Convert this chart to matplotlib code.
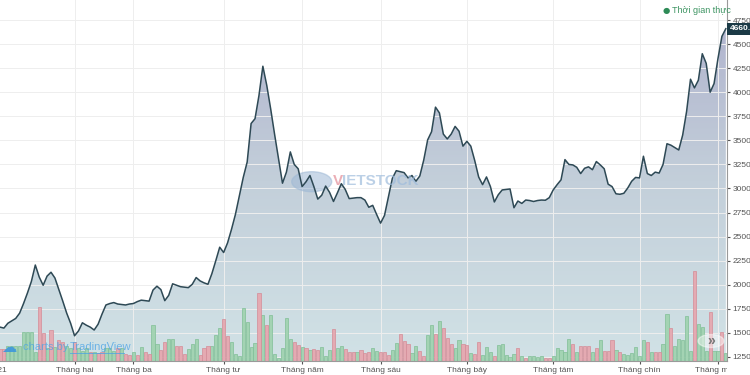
import numpy as np
import matplotlib.pyplot as plt
from matplotlib.colors import LinearSegmentedColormap
from matplotlib.patches import Circle
from matplotlib.lines import Line2D
from matplotlib.transforms import Bbox, TransformedBbox

plt.rcParams["font.family"] = ["Liberation Sans", "DejaVu Sans"]

# trading sessions counted from the first session of 2021
sessions = np.arange(1, 187)

close = [
    1560, 1550, 1600, 1625, 1650, 1705, 1805, 1915, 2035, 2205,
    2080, 1995, 2090, 2130, 2070, 1950, 1830, 1705, 1600, 1470,
    1520, 1605, 1580, 1560, 1530, 1590, 1695, 1790, 1805, 1815,
    1800, 1795, 1790, 1800, 1805, 1825, 1840, 1835, 1830, 1945,
    1985, 1950, 1835, 1890, 2010, 1995, 1980, 1975, 1970, 2005,
    2075, 2040, 2020, 2005, 2115, 2250, 2390, 2335, 2435, 2575,
    2730, 2920, 3115, 3275, 3675, 3725, 3965, 4270, 4070, 3825,
    3560, 3305, 3055, 3170, 3380, 3250, 3205, 3020, 3070, 3135,
    3020, 2890, 2930, 3025, 2960, 2865, 2955, 3050, 2990, 2895,
    2900, 2905, 2905, 2880, 2805, 2825, 2730, 2640, 2720, 2915,
    3105, 3185, 3175, 3165, 3110, 3135, 3075, 3130, 3295, 3505,
    3590, 3845, 3785, 3565, 3515, 3565, 3645, 3595, 3440, 3490,
    3440, 3290, 3120, 3040, 3120, 3020, 2860, 2935, 2985, 2990,
    2995, 2800, 2870, 2845, 2880, 2875, 2865, 2875, 2880, 2878,
    2905, 2985, 3040, 3090, 3300, 3250, 3245, 3220, 3155, 3210,
    3225, 3195, 3280, 3245, 3205, 3045, 3020, 2945, 2940, 2950,
    3005, 3075, 3115, 3110, 3335, 3155, 3135, 3170, 3160, 3250,
    3465, 3450, 3425, 3400, 3555, 3800, 4135, 4045, 4125, 4400,
    4300, 4000, 4090, 4350, 4580, 4660,
]

volume = [
    120, 120, 150, 150, 150, 150, 290, 290, 290, 90,
    540, 280, 130, 310, 140, 210, 190, 150, 130, 190,
    130, 100, 130, 90, 90, 80, 90, 130, 130, 100,
    130, 130, 70, 60, 90, 60, 140, 90, 70, 360,
    170, 110, 190, 220, 220, 150, 150, 70, 120, 170,
    220, 60, 130, 150, 150, 260, 330, 420, 250, 190,
    70, 50, 530, 390, 140, 180, 680, 460, 360, 460,
    70, 30, 130, 430, 220, 190, 160, 140, 130, 110,
    120, 110, 140, 50, 110, 320, 130, 150, 120, 90,
    90, 90, 110, 80, 90, 130, 100, 90, 90, 60,
    110, 180, 270, 200, 170, 80, 150, 100, 50, 260,
    360, 270, 400, 330, 230, 170, 130, 210, 170, 160,
    80, 70, 190, 60, 140, 90, 50, 160, 170, 60,
    40, 70, 130, 50, 30, 50, 50, 40, 50, 30,
    30, 50, 130, 110, 90, 220, 170, 90, 150, 150,
    150, 90, 130, 210, 100, 100, 210, 110, 90, 70,
    60, 80, 140, 50, 210, 190, 90, 90, 90, 170,
    470, 330, 150, 220, 210, 450, 100, 900, 370, 340,
    100, 490, 100, 100, 290, 80,
]

# u = up session (green bar), d = down session (red bar)
vol_dir = "".join("""
dduuuuuuuu ddududduud uuududduuu duddududdu udduuddduu uddduuuddu
uuuuuududu uuuuuddudu dduuuduudd duddduuddd uuddduuddu ududdduudd
udduuuduuu uududuuuud duuuuududd dududddudu uuuuududdu uduuuuuduu
uduudu
""".split())

month_ticks = [20, 35, 58, 78, 98, 120, 142, 164, 184]
month_labels = ["Tháng hai", "Tháng ba", "Tháng tư", "Tháng năm", "Tháng sáu",
                "Tháng bảy", "Tháng tám", "Tháng chín", "Tháng mười"]
price_ticks = [1250, 1500, 1750, 2000, 2250, 2500, 2750, 3000, 3250,
               3500, 3750, 4000, 4250, 4500, 4750]
last_price = 4660

x_lim = (1.0, 186.3)
p_lim = (1208, 4958)
v_lim = (0, 3610)

fig = plt.figure(figsize=(7.5, 3.75), dpi=100)
rect = [0, 14 / 375, 727 / 750, 361 / 375]

# background layer: grid + gradient area
ax_bg = fig.add_axes(rect)
ax_bg.set_xlim(*x_lim)
ax_bg.set_ylim(*p_lim)
ax_bg.set_xticks(month_ticks)
ax_bg.set_yticks(price_ticks)
ax_bg.grid(True, color="#eeeeee", lw=0.7)
ax_bg.tick_params(length=0, labelleft=False, labelbottom=False)
for s in ax_bg.spines.values():
    s.set_visible(False)

cmap = LinearSegmentedColormap.from_list("area", ["#d1e2e6", "#c3cfda", "#aeb0cc"])
grad = np.linspace(0, 1, 256).reshape(-1, 1)
img = ax_bg.imshow(grad, cmap=cmap, origin="lower", aspect="auto",
                   extent=[x_lim[0], x_lim[1], p_lim[0], p_lim[1]], zorder=1)
area = ax_bg.fill_between(sessions, close, p_lim[0], facecolor="none", edgecolor="none")
img.set_clip_path(area.get_paths()[0], transform=ax_bg.transData)

# volume layer
ax_v = fig.add_axes(rect, sharex=ax_bg)
ax_v.set_ylim(*v_lim)
ax_v.axis("off")
ax_v.patch.set_visible(False)
up = np.array([d == "u" for d in vol_dir])
vol = np.array(volume)
ax_v.bar(sessions[up], vol[up], width=0.8, color="#a3d3b3", edgecolor="#80bf96", lw=0.5)
ax_v.bar(sessions[~up], vol[~up], width=0.8, color="#e4aab2", edgecolor="#d48c97", lw=0.5)

# watermarks
ax_v.add_patch(Circle((311.7 / 750, 1 - 181.7 / 375), 20 / 750, transform=fig.transFigure,
                      color="#9fb9d6", alpha=0.55, zorder=0))
fig.text(333 / 750, 1 - 181 / 375, "V", color="#e79aa3", fontsize=11, fontweight="bold",
         va="center", alpha=0.8)
fig.text(342 / 750, 1 - 181 / 375, "IETSTOCK", color="#9fbcdc", fontsize=11,
         fontweight="bold", va="center", alpha=0.7)
fig.text(1 / 750, 1 - 347 / 375, "☁", color="#3d97dc", fontsize=11, va="center",
         family=["DejaVu Sans"], alpha=0.9)
fig.text(23 / 750, 1 - 347 / 375, "charts by", color="#4aa3e6", fontsize=8, va="center",
         alpha=0.75)
fig.text(70 / 750, 1 - 347 / 375, "TradingView", color="#4aa3e6", fontsize=8,
         va="center", alpha=0.75)
fig.add_artist(Line2D([70 / 750, 124 / 750], [1 - 353 / 375] * 2, color="#4aa3e6",
                      lw=0.7, alpha=0.75, transform=fig.transFigure))
ax_v.add_patch(Circle((711 / 750, 1 - 341 / 375), 13 / 750, transform=fig.transFigure,
                      color="white", alpha=0.45, zorder=5))
fig.text(711 / 750, 1 - 341 / 375, "»", color="#777777", fontsize=10, ha="center",
         va="center", fontweight="bold")

# price line and axes
ax = fig.add_axes(rect, sharex=ax_bg)
ax.set_ylim(*p_lim)
ax.patch.set_visible(False)
ax.plot(sessions, close, color="#2e4955", lw=1.1)

ax.yaxis.tick_right()
ax.set_yticks(price_ticks)
ax.set_yticklabels([f"{t:.2f}" for t in price_ticks])
ax.set_xticks(month_ticks)
ax.set_xticklabels(month_labels)
ax.tick_params(axis="y", labelsize=6, colors="#555555", length=2.5, pad=1.5)
ax.tick_params(axis="x", labelsize=6, colors="#555555", length=2.5, pad=1.5)
for side in ["left", "top"]:
    ax.spines[side].set_visible(False)
for side in ["right", "bottom"]:
    ax.spines[side].set_color("#9a9a9a")
    ax.spines[side].set_linewidth(0.8)

clip = TransformedBbox(Bbox([[0, 0], [727 / 750, 1]]), fig.transFigure)
for lab in ax.get_xticklabels():
    lab.set_clip_box(clip)
    lab.set_clip_on(True)
ax.text(0.5, -0.0155, "2021", transform=ax.get_xaxis_transform(), ha="center", va="top",
        fontsize=6, color="#555555", clip_on=False)

ax.text(1.004, last_price, f"{last_price:.2f}", transform=ax.get_yaxis_transform(),
        ha="left", va="center", color="white", fontsize=6, fontweight="bold",
        bbox=dict(boxstyle="square,pad=0.3", fc="#1b3a46", ec="none"), clip_on=False)

fig.text(663 / 750, 1 - 10.7 / 375, "●", color="#2e8b57", fontsize=6, va="center",
         family=["DejaVu Sans"])
fig.text(672 / 750, 1 - 10.7 / 375, "Thời gian thực", color="#3d9462", fontsize=6.5,
         va="center")

fig.savefig("out.png", dpi=100)
